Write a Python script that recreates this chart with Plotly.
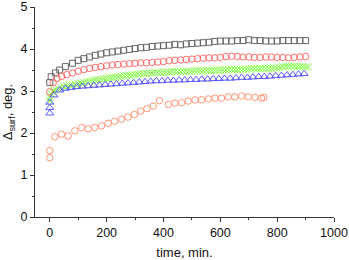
import plotly.graph_objects as go

# ---- data ----
gray_t = [0, 5, 20, 35, 55, 80, 100, 120, 140, 160, 180, 200, 220, 240, 260, 280, 300, 320, 340, 360,
          380, 400, 420, 440, 460, 480, 500, 520, 540, 560, 580, 600, 620, 640, 660, 680, 700, 720,
          740, 760, 780, 800, 820, 840, 860, 880, 900]
gray_v = [3.20, 3.34, 3.43, 3.50, 3.58, 3.66, 3.73, 3.77, 3.81, 3.85, 3.88, 3.91, 3.93, 3.95, 3.97, 3.99,
          4.01, 4.03, 4.04, 4.06, 4.07, 4.08, 4.09, 4.11, 4.10, 4.12, 4.13, 4.14, 4.15, 4.16, 4.18, 4.19,
          4.19, 4.19, 4.20, 4.20, 4.22, 4.20, 4.20, 4.19, 4.19, 4.19, 4.20, 4.20, 4.20, 4.20, 4.20]

red_t = [0, 12, 25, 42, 60, 80, 100, 120, 140, 160, 180, 200, 220, 240, 260, 280, 300, 320, 340, 360,
         380, 400, 420, 440, 460, 480, 500, 520, 540, 560, 580, 600, 620, 640, 660, 680, 700, 720, 740,
         760, 780, 800, 820, 840, 860, 880, 900]
red_v = [2.98, 3.20, 3.30, 3.35, 3.39, 3.43, 3.47, 3.51, 3.54, 3.56, 3.58, 3.60, 3.62, 3.63, 3.64, 3.65,
         3.66, 3.67, 3.67, 3.68, 3.69, 3.70, 3.72, 3.73, 3.74, 3.75, 3.76, 3.77, 3.78, 3.79, 3.79, 3.80,
         3.82, 3.83, 3.82, 3.81, 3.81, 3.80, 3.80, 3.81, 3.81, 3.80, 3.80, 3.79, 3.80, 3.81, 3.82]

green_t = [0, 0, 5, 10, 15, 20, 30, 40, 50, 60, 70, 80, 90, 100, 110, 120, 130, 140, 150, 160, 170, 180,
           190, 200, 210, 220, 230, 240, 250, 260, 270, 280, 290, 300, 310, 320, 330, 340, 350, 360, 370,
           380, 390, 400, 410, 420, 430, 440, 450, 460, 470, 480, 490, 500, 510, 520, 530, 540, 550, 560,
           570, 580, 590, 600, 610, 620, 630, 640, 650, 660, 670, 680, 690, 700, 710, 720, 730, 740, 750,
           760, 770, 780, 790, 800, 810, 820, 830, 840, 850, 860, 870, 880, 890, 900, 910]
green_v = [2.76, 2.85, 2.93, 2.98, 3.01, 3.03, 3.06, 3.08, 3.10, 3.12, 3.13, 3.15, 3.16, 3.17, 3.19, 3.20,
           3.22, 3.23, 3.24, 3.26, 3.27, 3.28, 3.29, 3.30, 3.31, 3.32, 3.33, 3.34, 3.35, 3.36, 3.37, 3.38,
           3.38, 3.39, 3.40, 3.41, 3.41, 3.42, 3.43, 3.43, 3.44, 3.44, 3.44, 3.45, 3.45, 3.45, 3.46, 3.46,
           3.46, 3.46, 3.47, 3.47, 3.47, 3.47, 3.48, 3.48, 3.48, 3.48, 3.49, 3.49, 3.49, 3.49, 3.50, 3.50,
           3.50, 3.50, 3.51, 3.51, 3.51, 3.51, 3.52, 3.52, 3.52, 3.52, 3.53, 3.53, 3.53, 3.53, 3.54, 3.54,
           3.54, 3.54, 3.55, 3.55, 3.56, 3.58, 3.59, 3.59, 3.59, 3.59, 3.58, 3.58, 3.58, 3.57, 3.57]

blue_t = [0, 0, 0, 15, 35, 55, 75, 95, 115, 135, 155, 175, 195, 215, 235, 255, 275, 295, 315, 335, 355,
          375, 395, 415, 435, 455, 475, 495, 515, 535, 555, 575, 595, 615, 635, 655, 675, 695, 715, 735,
          755, 775, 795, 815, 835, 855, 875, 895]
blue_v = [2.47, 2.60, 2.73, 2.90, 3.02, 3.06, 3.08, 3.10, 3.11, 3.12, 3.13, 3.14, 3.15, 3.16, 3.17, 3.18,
          3.19, 3.20, 3.21, 3.22, 3.23, 3.24, 3.24, 3.25, 3.25, 3.26, 3.26, 3.27, 3.27, 3.28, 3.28, 3.29,
          3.29, 3.30, 3.30, 3.31, 3.32, 3.32, 3.33, 3.34, 3.34, 3.35, 3.36, 3.37, 3.38, 3.39, 3.40, 3.41]

orange_t = [0, 0, 18, 41, 64, 88, 112, 135, 158, 182, 205, 228, 252, 275, 298, 320, 342, 364, 386, 417,
            440, 464, 487, 511, 534, 558, 581, 604, 628, 651, 675, 698, 722, 745, 753]
orange_v = [1.41, 1.58, 1.91, 1.97, 1.93, 2.05, 2.13, 2.10, 2.13, 2.17, 2.23, 2.28, 2.33, 2.38, 2.44, 2.52,
            2.58, 2.64, 2.77, 2.68, 2.71, 2.72, 2.76, 2.79, 2.79, 2.81, 2.83, 2.83, 2.86, 2.86, 2.88, 2.86,
            2.85, 2.83, 2.85]

x_ticks = [0, 200, 400, 600, 800, 1000]
y_ticks = [0, 1, 2, 3, 4, 5]

FONT = "Liberation Sans, Arial, sans-serif"

fig = go.Figure()

def add(t, v, symbol, color, size):
    fig.add_trace(go.Scatter(
        x=t, y=v, mode="markers",
        marker=dict(symbol=symbol, size=size, color=color,
                    line=dict(color=color, width=1)),
        showlegend=False, hoverinfo="skip", cliponaxis=False))

add(green_t, green_v, "x-thin-open", "#7cf83c", 7)
add(gray_t, gray_v, "square-open", "#666666", 6)
add(red_t, red_v, "circle-open", "#ff6b6b", 6.5)
add(blue_t, blue_v, "triangle-up-open", "#5a5aff", 7)
add(orange_t, orange_v, "circle-open", "#ff9574", 6.5)

axis_common = dict(
    showline=True, linecolor="#333333", linewidth=1.3, mirror=False,
    showgrid=False, zeroline=False, automargin=False,
    ticks="outside", ticklen=4, tickwidth=1, tickcolor="#333333",
    ticklabeloverflow="allow",
    tickfont=dict(family=FONT, size=12.5, color="#111111"),
)

fig.update_layout(
    width=349, height=260,
    margin=dict(l=35, r=15, t=7, b=43),
    paper_bgcolor="white", plot_bgcolor="white",
    font=dict(family=FONT, size=13, color="#111111"),
    xaxis=dict(range=[-52, 1000], tickvals=x_ticks,
               minor=dict(dtick=100, tick0=0, ticks="outside", ticklen=2, tickcolor="#333333"),
               title=dict(text="time, min.", font=dict(family=FONT, size=13), standoff=11),
               **axis_common),
    yaxis=dict(range=[0, 5], tickvals=y_ticks,
               minor=dict(dtick=0.5, tick0=0, ticks="outside", ticklen=2, tickcolor="#333333"),
               title=dict(text="Δ<sub>surf</sub>, deg.", font=dict(family=FONT, size=13), standoff=5),
               **axis_common),
)

fig.write_html("out.html", config={"displayModeBar": False},
               post_script="document.body.style.margin='0';")
